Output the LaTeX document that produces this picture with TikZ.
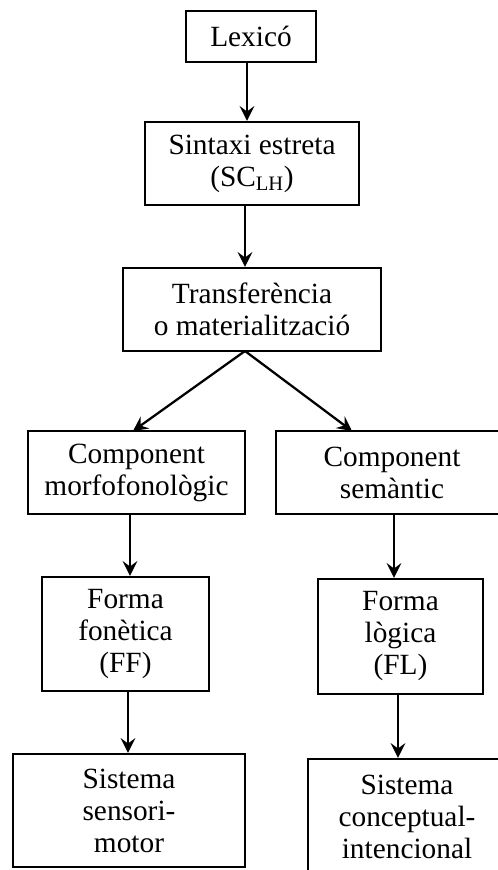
\documentclass[tikz,border=0pt]{standalone}
\usepackage{fontspec}
\setmainfont{Liberation Serif}
\usetikzlibrary{arrows.meta}
\begin{document}
\begin{tikzpicture}[x=0.75pt,y=-0.75pt,
  box/.style={draw,line width=1.8pt,align=center,inner sep=0pt,
    font=\fontsize{22}{24}\selectfont},
  arr/.style={line width=1.7pt,-{Stealth[length=11pt,width=11pt,inset=4pt]}}]
\useasboundingbox (0,0) rectangle (498,870);
\clip (0,0) rectangle (498,870);
\node[box,minimum width=130*0.75pt,minimum height=51*0.75pt] (lex) at (251,36.5) {Lexicó};
\node[box,minimum width=214*0.75pt,minimum height=83*0.75pt] (sin) at (252,163.5) {Sintaxi estreta\\(SC\textsubscript{LH})};
\node[box,minimum width=258*0.75pt,minimum height=83*0.75pt] (tra) at (252,309.5) {Transferència\\o materialització};
\node[box,minimum width=217*0.75pt,minimum height=83*0.75pt] (mor) at (136.5,472.5) {Component\\morfofonològic};
\node[box,minimum width=232*0.75pt,minimum height=83*0.75pt] (sem) at (392,472.5) {Component\\semàntic};
\node[box,minimum width=167*0.75pt,minimum height=114*0.75pt] (ff) at (125.5,634) {Forma\\fonètica\\(FF)};
\node[box,minimum width=165*0.75pt,minimum height=115*0.75pt] (fl) at (400.5,636.5) {Forma\\lògica\\(FL)};
\node[box,minimum width=232*0.75pt,minimum height=113*0.75pt] (sm) at (129,810.5) {Sistema\\sensori-\\motor};
\node[box,minimum width=198*0.75pt,minimum height=116*0.75pt] (ci) at (407,817) {Sistema\\conceptual-\\intencional};
\coordinate (c1) at (247,0);
\coordinate (c2) at (245,0);
\coordinate (c3) at (130,0);
\coordinate (c4) at (394,0);
\coordinate (c5) at (128,0);
\coordinate (c6) at (398,0);
\coordinate (t1) at (245,351);
\coordinate (l1) at (133,431);
\coordinate (r1) at (352,431);
\draw[arr] (lex.south -| c1) -- (sin.north -| c1);
\draw[arr] (sin.south -| c2) -- (tra.north -| c2);
\draw[arr] (t1) -- (l1);
\draw[arr] (t1) -- (r1);
\draw[arr] (mor.south -| c3) -- (ff.north -| c3);
\draw[arr] (sem.south -| c4) -- (fl.north -| c4);
\draw[arr] (ff.south -| c5) -- (sm.north -| c5);
\draw[arr] (fl.south -| c6) -- (ci.north -| c6);
\end{tikzpicture}
\end{document}
